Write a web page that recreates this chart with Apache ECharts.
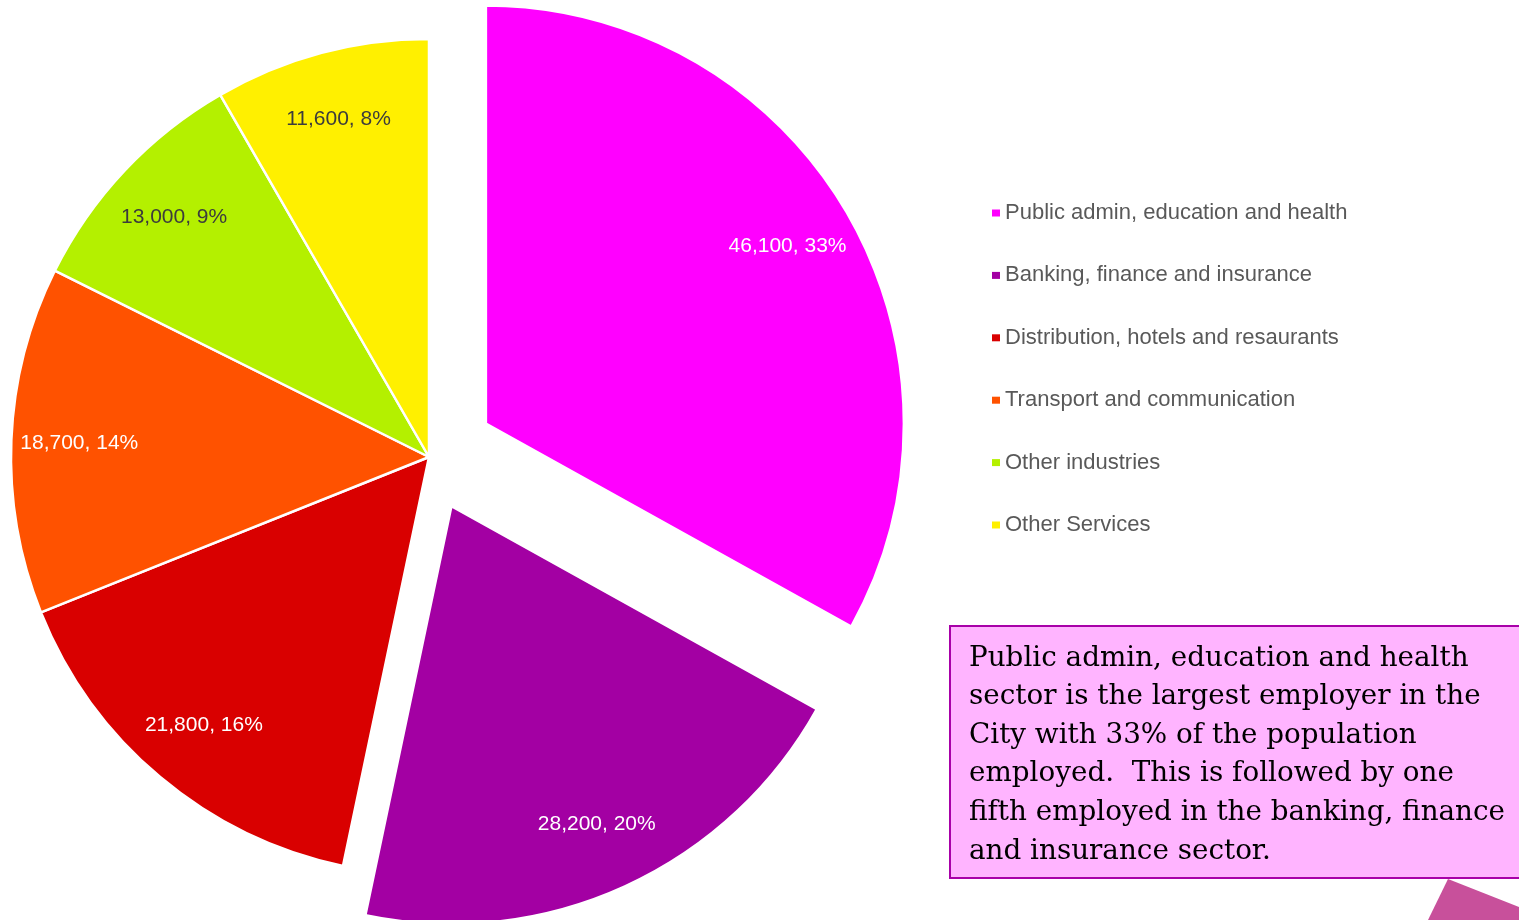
<!DOCTYPE html>
<html><head><meta charset="utf-8">
<script src="https://cdn.jsdelivr.net/npm/echarts@6/dist/echarts.min.js"></script>
<style>html,body{margin:0;padding:0;background:#fff}#c{width:1519px;height:920px}</style>
</head><body><div id="c"></div>
<script>
// ---- data ----
const categories = [
  'Public admin, education and health',
  'Banking, finance and insurance',
  'Distribution, hotels and resaurants',
  'Transport and communication',
  'Other industries',
  'Other Services'
];
const employees = [46100, 28200, 21800, 18700, 13000, 11600];
const percentLabels = [33, 20, 16, 14, 9, 8];
const noteLines = [
  'Public admin, education and health',
  'sector is the largest employer in the',
  'City with 33% of the population',
  'employed.  This is followed by one',
  'fifth employed in the banking, finance',
  'and insurance sector.'
];

// ---- styles ----
const sliceColors = ['#ff00ff', '#a300a3', '#d90000', '#ff5200', '#b4f000', '#fff000'];
const labelColors = ['#ffffff', '#ffffff', '#ffffff', '#ffffff', '#3c3c3c', '#3c3c3c'];
const CENTER = [429, 457];
const R = 418;
const sansFont = '"Liberation Sans", Arial, sans-serif';

function fmtLabel(p) {
  return employees[p.dataIndex].toLocaleString('en-US') + ', ' + percentLabels[p.dataIndex] + '%';
}

function buildData(visible, selected, isLabel) {
  return categories.map((name, i) => {
    const vis = visible.includes(i);
    return {
      name: name,
      value: employees[i],
      selected: selected.includes(i),
      itemStyle: (isLabel || !vis)
        ? { color: 'rgba(0,0,0,0)', borderWidth: 0 }
        : { color: sliceColors[i], borderColor: '#ffffff', borderWidth: 2.5 },
      label: { show: isLabel && vis, color: labelColors[i] }
    };
  });
}

function makeSeries(visible, selected, offset, isLabel) {
  return {
    type: 'pie',
    center: CENTER,
    radius: isLabel ? [Math.round(R * 0.66), R] : [0, R],
    startAngle: 90,
    clockwise: true,
    selectedMode: 'multiple',
    selectedOffset: offset,
    avoidLabelOverlap: false,
    animation: false,
    silent: true,
    emphasis: { disabled: true },
    labelLine: { show: false },
    label: {
      position: 'inside',
      formatter: fmtLabel,
      fontFamily: sansFont,
      fontSize: 21
    },
    data: buildData(visible, selected, isLabel)
  };
}

const chart = echarts.init(document.getElementById('c'), null, { renderer: 'canvas' });
chart.setOption({
  backgroundColor: '#ffffff',
  animation: false,
  legend: {
    orient: 'vertical',
    left: 987,
    top: 197,
    itemWidth: 8,
    itemHeight: 7,
    itemGap: 40.4,
    icon: 'rect',
    selectedMode: false,
    itemStyle: { borderWidth: 0 },
    textStyle: { fontSize: 22, color: '#595959', fontFamily: sansFont, lineHeight: 22 },
    data: categories.map((n, i) => ({ name: n, itemStyle: { color: sliceColors[i], borderWidth: 0 } }))
  },
  series: [
    makeSeries([0], [0], 66, false),
    makeSeries([1, 2, 3, 4, 5], [1], 54, false),
    makeSeries([0], [0], 66, true),
    makeSeries([1, 2, 3, 4, 5], [1], 54, true)
  ],
  graphic: [
    {
      type: 'polygon',
      z: 1,
      shape: { points: [[1448, 879], [1519, 907], [1519, 920], [1428, 920]] },
      style: { fill: '#c8509b' }
    },
    {
      type: 'rect',
      z: 2,
      shape: { x: 950, y: 626, width: 600, height: 252 },
      style: { fill: '#ffb4ff', stroke: '#a800a8', lineWidth: 2 }
    },
    {
      type: 'text',
      z: 3,
      x: 969,
      y: 639,
      style: {
        text: noteLines.join('\n'),
        font: '27.8px "DejaVu Serif", Georgia, serif',
        lineHeight: 38.6,
        fill: '#000000',
        verticalAlign: 'top',
        align: 'left'
      }
    }
  ]
});
</script>
</body></html>
